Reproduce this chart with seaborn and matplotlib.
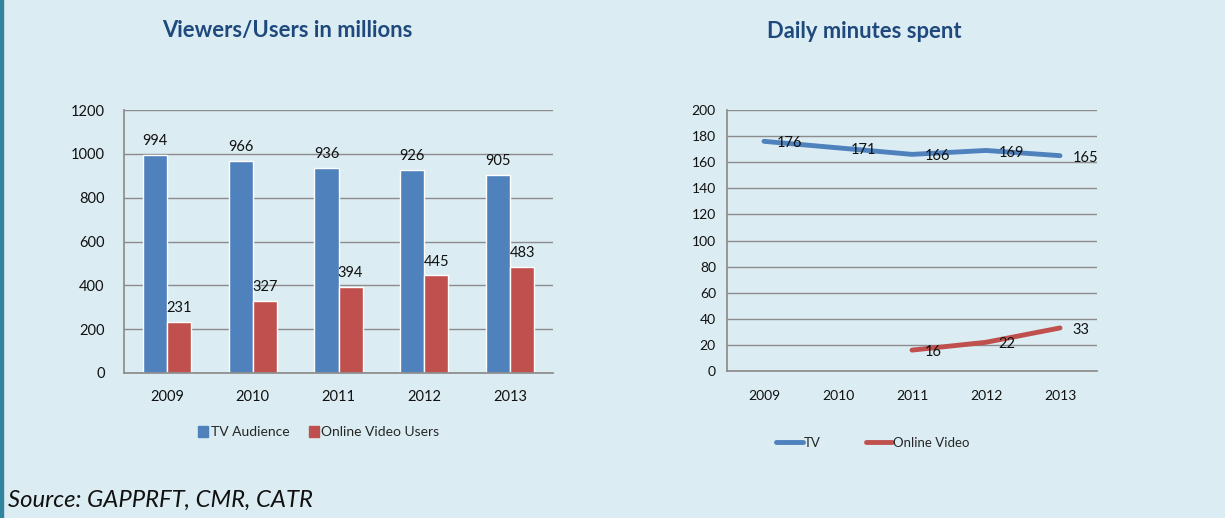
import matplotlib
matplotlib.use("Agg")
import matplotlib.pyplot as plt
import seaborn as sns
import pandas as pd
from matplotlib.lines import Line2D
from matplotlib.patches import Patch, Rectangle

years = ["2009", "2010", "2011", "2012", "2013"]
tv_audience = [994, 966, 936, 926, 905]
online_users = [231, 327, 394, 445, 483]
tv_minutes = [176, 171, 166, 169, 165]
online_minutes_years = ["2011", "2012", "2013"]
online_minutes = [16, 22, 33]

BG = "#DBEDF3"
BLUE = "#4F81BD"
RED = "#C0504D"
TITLE = "#1F497D"
GRID = "#8C8C8C"

sns.set_theme(style="white")
plt.rcParams["font.family"] = ["Lato", "DejaVu Sans"]

fig = plt.figure(figsize=(12.25, 5.18), dpi=100, facecolor=BG)
W, H = 1225, 518

def box(x0, y0, x1, y1):
    return [x0 / W, 1 - y1 / H, (x1 - x0) / W, (y1 - y0) / H]

# left accent strip
fig.patches.append(Rectangle((0, 0), 3 / W, 1, transform=fig.transFigure,
                             color="#31849B", zorder=0))

# ---- bar chart: viewers / users ----
ax1 = fig.add_axes(box(124, 110, 553, 373))
df = pd.DataFrame({
    "year": years * 2,
    "value": tv_audience + online_users,
    "series": ["TV Audience"] * 5 + ["Online Video Users"] * 5,
})
sns.barplot(data=df, x="year", y="value", hue="series", ax=ax1,
            palette=[BLUE, RED], width=0.56, saturation=1, legend=False)
for cont in ax1.containers:
    ax1.bar_label(cont, padding=5, fontsize=10.5, color="#111111")
ax1.set_ylim(0, 1200)
ax1.set_xlim(-0.5, 4.5)
ax1.set_yticks(range(0, 1201, 200))
ax1.set_xlabel("")
ax1.set_ylabel("")
ax1.set_facecolor(BG)
ax1.grid(axis="y", color=GRID, lw=1)
ax1.set_axisbelow(True)
for s in ["top", "right"]:
    ax1.spines[s].set_visible(False)
for s in ["left", "bottom"]:
    ax1.spines[s].set_color(GRID)
ax1.tick_params(axis="both", length=0, labelsize=10.5, colors="#111111", pad=12)
ax1.tick_params(axis="y", pad=14)
fig.text(287 / W, 1 - 31 / H, "Viewers/Users in millions", ha="center", va="center",
         fontsize=15.8, fontweight="bold", color=TITLE)
fig.legend(handles=[Patch(color=BLUE, label="TV Audience"),
                    Patch(color=RED, label="Online Video Users")],
           loc="center", bbox_to_anchor=(319 / W, 1 - 432 / H), ncol=2,
           frameon=False, fontsize=10, handlelength=0.7, handleheight=0.9,
           handletextpad=0.2, columnspacing=1.4)

# ---- line chart: daily minutes ----
ax2 = fig.add_axes(box(727, 110, 1097, 371))
xpos = {y: i for i, y in enumerate(years)}
ldf = pd.DataFrame({
    "x": [xpos[y] for y in years] + [xpos[y] for y in online_minutes_years],
    "value": tv_minutes + online_minutes,
    "series": ["TV"] * 5 + ["Online Video"] * 3,
})
sns.lineplot(data=ldf, x="x", y="value", hue="series", ax=ax2,
             palette={"TV": BLUE, "Online Video": RED}, lw=3.5, legend=False)
# value labels sit just right of and slightly below each point
for i, v in enumerate(tv_minutes):
    ax2.annotate(str(v), (i, v), xytext=(9, -1.5), textcoords="offset points",
                 fontsize=10.5, color="#111111", ha="left", va="center")
for y, v in zip(online_minutes_years, online_minutes):
    ax2.annotate(str(v), (xpos[y], v), xytext=(9, -1.5), textcoords="offset points",
                 fontsize=10.5, color="#111111", ha="left", va="center")
ax2.set_xlim(-0.5, 4.5)
ax2.set_ylim(0, 200)
ax2.set_yticks(range(0, 201, 20))
ax2.set_xticks(range(5))
ax2.set_xticklabels(years)
ax2.set_xlabel("")
ax2.set_ylabel("")
ax2.set_facecolor(BG)
ax2.grid(axis="y", color=GRID, lw=1)
ax2.set_axisbelow(True)
for s in ["top", "right"]:
    ax2.spines[s].set_visible(False)
for s in ["left", "bottom"]:
    ax2.spines[s].set_color(GRID)
ax2.tick_params(axis="both", length=0, labelsize=10, colors="#111111")
ax2.tick_params(axis="x", pad=14)
ax2.tick_params(axis="y", pad=8)
fig.text(864 / W, 1 - 31 / H, "Daily minutes spent", ha="center", va="center",
         fontsize=15.8, fontweight="bold", color=TITLE)
fig.legend(handles=[Line2D([], [], color=BLUE, lw=3.5, label="TV"),
                    Line2D([], [], color=RED, lw=3.5, label="Online Video")],
           loc="center", bbox_to_anchor=(873 / W, 1 - 443 / H), ncol=2,
           frameon=False, fontsize=9.5, handlelength=2.0,
           handletextpad=0.1, columnspacing=3.4)

fig.text(8 / W, 1 - 500 / H, "Source: GAPPRFT, CMR, CATR", ha="left", va="center",
         fontsize=17.2, style="italic", color="#111111")

fig.savefig("out.png", dpi=100, facecolor=BG)
